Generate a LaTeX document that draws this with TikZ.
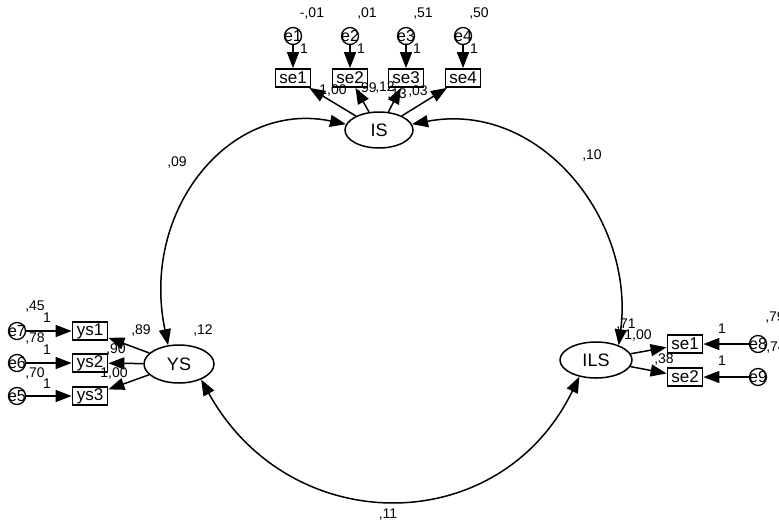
\documentclass[tikz,border=0pt]{standalone}
\usepackage{fontspec}
\setmainfont{Liberation Sans}
\usetikzlibrary{arrows.meta,shapes.geometric}
\begin{document}
\begin{tikzpicture}[x=1pt,y=-1pt,
  lat/.style={draw,ellipse,line width=1.5pt,minimum width=68pt,minimum height=36pt,inner sep=0pt,font=\fontsize{18}{18}\selectfont},
  obs/.style={draw,rectangle,line width=1.8pt,minimum width=35pt,minimum height=18pt,inner sep=0pt,font=\fontsize{17}{17}\selectfont},
  err/.style={draw,circle,line width=1.3pt,minimum size=17pt,inner sep=0pt},
  errlab/.style={font=\fontsize{16}{16}\selectfont,inner sep=0pt},
  num/.style={font=\fontsize{14}{14}\selectfont,inner sep=0pt},
  tip/.style={-{Triangle[length=16pt,width=12pt]}},
  arr/.style={line width=1.5pt,tip},
  cov/.style={line width=1.5pt,{Triangle[length=16pt,width=12pt]}-{Triangle[length=16pt,width=12pt]}},
]
\useasboundingbox (0,0) rectangle (779,528);

% latent variables
\node[lat] (IS) at (379,130) {IS};
\node[lat,minimum width=70pt,minimum height=38pt] (YS) at (179,364) {YS};
\node[lat,minimum width=72pt] (ILS) at (596,360) {ILS};

% top indicators
\foreach \i/\x in {1/293,2/350,3/406,4/463}{
  \node[obs] (se\i) at (\x,78) {se\i};
  \node[err] (e\i) at (\x,36) {};
  \node[errlab] at (e\i) {e\i};
  \draw[arr] (e\i) -- (se\i);
  \draw[arr] (IS) -- (se\i);
  \node[num] at (\x+11,49) {1};
}
\node[num] at (312,14) {-,01};
\node[num] at (367,14) {,01};
\node[num] at (423,14) {,51};
\node[num] at (479,14) {,50};
\node[num] at (333,91) {1,00};
\node[num] at (367,89) {,99};
\node[num] at (385,88) {,12};
\node[num] at (397,95) {,13};
\node[num] at (418,92) {,03};

% left indicators
\foreach \n/\e/\y in {1/7/331,2/6/363,3/5/396}{
  \node[obs] (ys\n) at (90,\y) {ys\n};
  \node[err] (e\e) at (17,\y) {};
  \node[errlab] at (e\e) {e\e};
  \draw[arr] (e\e) -- (ys\n);
  \draw[arr] (YS) -- (ys\n);
}
\node[num] at (35,307) {,45};
\node[num] at (47,318) {1};
\node[num] at (35,339) {,78};
\node[num] at (47,350) {1};
\node[num] at (35,373) {,70};
\node[num] at (47,384) {1};
\node[num] at (141,331) {,89};
\node[num] at (203,331) {,12};
\node[num] at (116,350) {,90};
\node[num] at (114,373) {1,00};

% right indicators
\node[obs] (r1) at (685,344) {se1};
\node[obs] (r2) at (685,377) {se2};
\node[err] (e8) at (758,344) {};
\node[errlab] at (e8) {e8};
\node[err] (e9) at (758,377) {};
\node[errlab] at (e9) {e9};
\draw[arr] (e8) -- (r1);
\draw[arr] (e9) -- (r2);
\draw[arr] (ILS) -- (r1);
\draw[arr] (ILS) -- (r2);
\node[num] at (722,329) {1};
\node[num] at (722,361) {1};
\node[num] at (775,318) {,79};
\node[num] at (776,348) {,74};
\node[num] at (626,325) {,71};
\node[num] at (638,336) {1,00};
\node[num] at (664,359) {,38};

% covariances
\draw[cov] (IS.170) .. controls (230,100) and (140,210) .. (YS.120);
\draw[cov] (IS.10) .. controls (540,100) and (635,220) .. (ILS.33);
\draw[cov] (YS.-35) .. controls (290,540) and (500,540) .. (ILS.-135);
\node[num] at (177,163) {,09};
\node[num] at (592,156) {,10};
\node[num] at (388,515) {,11};
\end{tikzpicture}
\end{document}
